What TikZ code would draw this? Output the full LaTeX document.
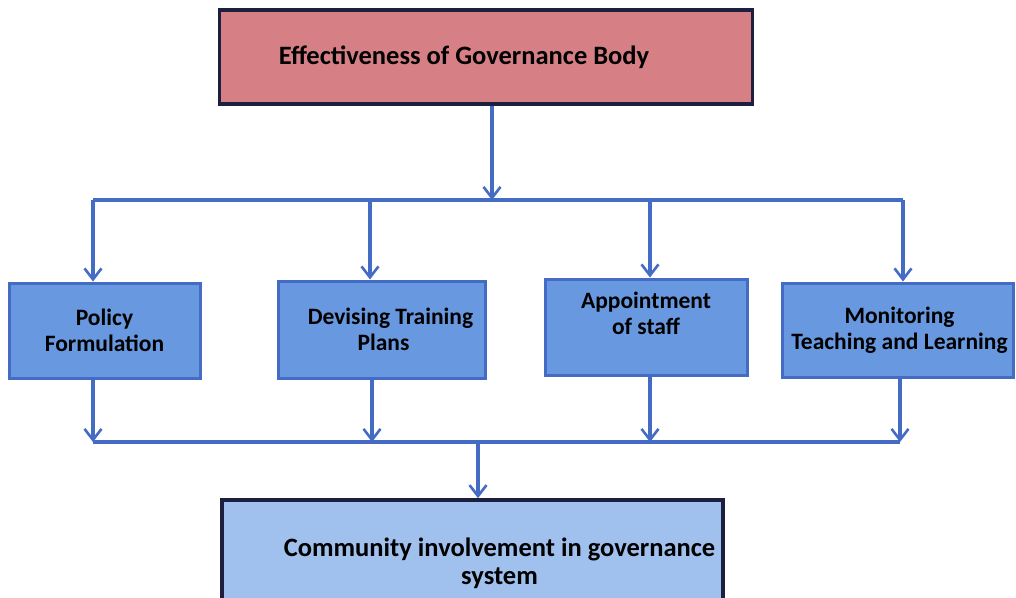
\documentclass[tikz,border=0pt]{standalone}
\usepackage{fontspec}
\setmainfont{Carlito}
\usetikzlibrary{arrows.meta,positioning}

\definecolor{linecol}{RGB}{68,108,196}
\definecolor{pinkfill}{RGB}{214,128,134}
\definecolor{bluefill}{RGB}{104,152,224}
\definecolor{paleblue}{RGB}{160,192,238}
\definecolor{navy}{RGB}{28,32,62}

\tikzset{
  link/.style={draw=linecol, line width=3.2pt, -{Straight Barb[length=11pt,width=17pt,line width=2.6pt]}},
  bar/.style={draw=linecol, line width=3.2pt},
  headbox/.style={draw=navy, line width=3.6pt, fill=pinkfill, font=\bfseries\fontsize{26.5}{30}\selectfont},
  taskbox/.style={draw=linecol, line width=3pt, fill=bluefill, align=center, font=\bfseries\fontsize{23.5}{26}\selectfont},
  resultbox/.style={draw=navy, line width=3.6pt, fill=paleblue, align=center, font=\bfseries\fontsize{26.5}{28}\selectfont}
}

\begin{document}
\begin{tikzpicture}[x=1pt, y=-1pt]
%%
  \useasboundingbox[fill=white] (0,0) rectangle (1016,597);
  \node (gov) at (486,57) [headbox, minimum width=533pt, minimum height=94pt] {\hspace*{-44pt}Effectiveness of Governance Body};
  \node (policy) at (104.5,330.5) [taskbox, minimum width=191pt, minimum height=95pt] {Policy\\Formulation};
  \node (training) at (381.5,329.5) [taskbox, minimum width=207pt, minimum height=97pt] {\hspace*{18pt}Devising Training\\\hspace*{4pt}Plans};
  \node (staff) at (646,327) [taskbox, minimum width=202pt, minimum height=96pt] {\raisebox{4pt}[0pt][0pt]{\begin{tabular}{@{}c@{}}Appointment\\of staff\end{tabular}}};
  \node (monitor) at (897.5,330) [taskbox, minimum width=231pt, minimum height=94pt] {\hspace*{4pt}Monitoring\\\hspace*{4pt}Teaching and Learning};
  \node (community) at (472.5,551) [resultbox, minimum width=501pt, minimum height=102pt] {\hspace*{54pt}\raisebox{-20pt}[0pt][0pt]{\begin{tabular}{@{}c@{}}Community involvement in governance\\system\end{tabular}}};
%
  \coordinate (split) at (492,200);
  \coordinate (a1) at (93,200);
  \coordinate (a2) at (370,200);
  \coordinate (a3) at (650,200);
  \coordinate (a4) at (903,200);
  \coordinate (join) at (478,442);
  \coordinate (b1) at (93,442);
  \coordinate (b2) at (372,442);
  \coordinate (b3) at (650,442);
  \coordinate (b4) at (900,442);
%
  \draw [link] (gov.south -| split) -- (split);
  \draw [bar] (a1) -- (a4);
  \draw [bar] (b1) -- (b4);
  \foreach \p/\n in {a1/policy, a2/training, a3/staff, a4/monitor}
    \draw [link] (\p) -- (\p |- \n.north);
  \foreach \p/\n in {b1/policy, b2/training, b3/staff, b4/monitor}
    \draw [link] (\p |- \n.south) -- (\p);
  \draw [link] (join) -- (join |- community.north);
%
\end{tikzpicture}
\end{document}
